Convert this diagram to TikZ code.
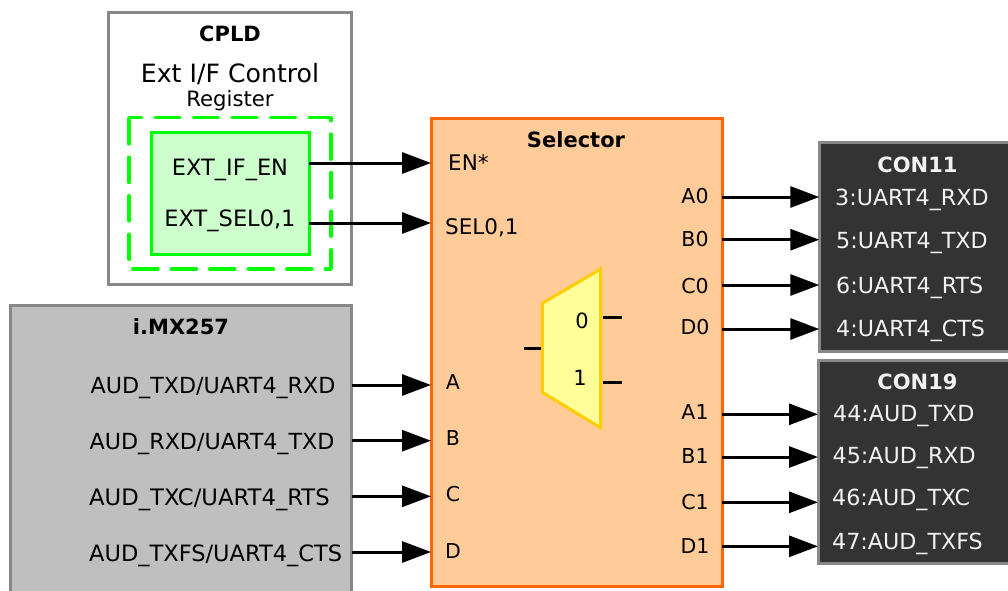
\documentclass[tikz,border=0pt]{standalone}
\usepackage{fontspec}
\setmainfont{DejaVu Sans}
\usetikzlibrary{arrows.meta}
\definecolor{boxgray}{HTML}{888888}
\definecolor{pure}{HTML}{00FF00}
\definecolor{palegreen}{HTML}{CCFFCC}
\definecolor{selfill}{HTML}{FFCC99}
\definecolor{seledge}{HTML}{FF6600}
\definecolor{muxfill}{HTML}{FFFF99}
\definecolor{muxedge}{HTML}{FFCC00}
\definecolor{socgray}{HTML}{BFBFBF}
\definecolor{condark}{HTML}{333333}
\tikzset{
  x=1pt,y=-1pt,
  blockbox/.style={draw=boxgray,line width=3pt,anchor=north west,inner sep=0pt,outer sep=0pt},
  lab/.style={inner sep=0pt,anchor=base,yshift=-7.5pt,font=\fontsize{20.5}{23}\selectfont},
  sigc/.style={lab,yshift=-0.5pt,font=\fontsize{22.5}{26}\selectfont},
  labl/.style={lab,anchor=base west,yshift=-0.5pt,font=\fontsize{22.2}{26}\selectfont},
  head/.style={lab,yshift=0pt,font=\fontsize{21}{24}\selectfont\bfseries},
  wlab/.style={labl,text=white!95!black},
  sig/.style={draw=black,line width=3pt,-{Triangle[length=29pt,width=21pt]}},
  stub/.style={draw=black,line width=3pt},
}
\begin{document}
\begin{tikzpicture}
\path[use as bounding box,clip] (0,0) rectangle (1008,590);
\fill[white] (0,0) rectangle (1008,590);
% CPLD
\node[blockbox,fill=white,minimum width=243pt,minimum height=272pt] (cpld) at (108.5,12) {};
\node[head] (cpldt) at (230,34) {CPLD};
\node[lab,font=\fontsize{25.2}{29}\selectfont,yshift=-0.5pt] (ctl) at (230,74.5) {Ext I/F Control};
\node[lab,font=\fontsize{21.2}{24}\selectfont,yshift=0pt] (reg) at (230,99) {Register};
\draw[pure,line width=3.5pt,line cap=round,line join=round,dash pattern=on 25pt off 13.5pt,dash phase=12.5pt]
  (129,117.7) -- (331,117.7) -- (331,269) -- (129,269) -- cycle;
\node[blockbox,draw=pure,fill=palegreen,minimum width=158pt,minimum height=122pt] (regs) at (151,132.7) {};
\node[sigc] (extif) at (230,167) {EXT\_IF\_EN};
\node[sigc] (extsel) at (230,218) {EXT\_SEL0,1};
% i.MX257
\node[blockbox,fill=socgray,minimum width=341pt,minimum height=320pt] (imx) at (10.7,305) {};
\node[head] (imxt) at (181,327) {i.MX257};
\node[labl] (l1) at (90.5,385) {AUD\_TXD/UART4\_RXD};
\node[labl] (l2) at (89.5,441) {AUD\_RXD/UART4\_TXD};
\node[labl,font=\fontsize{22.7}{26}\selectfont] (l3) at (89,497) {AUD\_TXC/UART4\_RTS};
\node[labl,font=\fontsize{22.5}{26}\selectfont] (l4) at (89,553) {AUD\_TXFS/UART4\_CTS};
% Selector
\node[blockbox,draw=seledge,fill=selfill,minimum width=291pt,minimum height=468pt] (sel) at (431,118) {};
\node[head] (selt) at (576,140) {Selector};
\node[labl,font=\fontsize{21.5}{25}\selectfont] (en) at (448,162) {EN*};
\node[labl,font=\fontsize{21.5}{25}\selectfont] (s01) at (445,226) {SEL0,1};
\node[lab] (pa) at (453,382) {A};
\node[lab] (pb) at (453,438) {B};
\node[lab] (pc) at (453,494) {C};
\node[lab] (pd) at (453,551) {D};
\node[lab] (a0) at (695,196) {A0};
\node[lab] (b0) at (695,239) {B0};
\node[lab] (c0) at (695,286) {C0};
\node[lab] (d0) at (695,327) {D0};
\node[lab] (a1) at (695,412) {A1};
\node[lab] (b1) at (695,456) {B1};
\node[lab] (c1) at (695,502) {C1};
\node[lab] (d1) at (695,546) {D1};
% Mux
\draw[muxedge,fill=muxfill,line width=3pt,line join=miter]
  (542.3,303.3) -- (600.7,269) -- (600.7,427.7) -- (542.3,392.3) -- cycle;
\node[lab,font=\fontsize{21}{24}\selectfont] (m0) at (582,320.7) {0};
\node[lab,font=\fontsize{21}{24}\selectfont] (m1) at (580,377.7) {1};
\coordinate (sl0) at (524,348);
\coordinate (sl1) at (541,348);
\coordinate (st0) at (603,317.7);
\coordinate (st1) at (622,317.7);
\coordinate (su0) at (603,382.3);
\coordinate (su1) at (622,382.3);
\draw[stub] (sl0) -- (sl1);
\draw[stub] (st0) -- (st1);
\draw[stub] (su0) -- (su1);
% CON11
\node[blockbox,fill=condark,minimum width=230pt,minimum height=209.4pt] (con11) at (819.3,142.3) {};
\node[head,text=white!95!black] (con11t) at (917.5,165) {CON11};
\node[wlab] (c3) at (835,197) {3:UART4\_RXD};
\node[wlab] (c5) at (836,240) {5:UART4\_TXD};
\node[wlab] (c6) at (836,285) {6:UART4\_RTS};
\node[wlab] (c4) at (836,328) {4:UART4\_CTS};
% CON19
\node[blockbox,fill=condark,minimum width=230pt,minimum height=203pt] (con19) at (818,360) {};
\node[head,text=white!95!black] (con19t) at (917.5,382) {CON19};
\node[wlab] (c44) at (833,413) {44:AUD\_TXD};
\node[wlab] (c45) at (832.5,455) {45:AUD\_RXD};
\node[wlab] (c46) at (832,497) {46:AUD\_TXC};
\node[wlab] (c47) at (832,541) {47:AUD\_TXFS};
% Connectors
\draw[sig] (regs.east |- 0,163) -- (sel.west |- 0,163);
\draw[sig] (regs.east |- 0,223) -- (sel.west |- 0,223);
\draw[sig] (imx.east |- 0,385) -- (sel.west |- 0,385);
\draw[sig] (imx.east |- 0,440.7) -- (sel.west |- 0,440.7);
\draw[sig] (imx.east |- 0,496.3) -- (sel.west |- 0,496.3);
\draw[sig] (imx.east |- 0,552) -- (sel.west |- 0,552);
\draw[sig] (sel.east |- 0,197) -- (con11.west |- 0,197);
\draw[sig] (sel.east |- 0,239.7) -- (con11.west |- 0,239.7);
\draw[sig] (sel.east |- 0,285) -- (con11.west |- 0,285);
\draw[sig] (sel.east |- 0,329) -- (con11.west |- 0,329);
\draw[sig] (sel.east |- 0,414.3) -- (con19.west |- 0,414.3);
\draw[sig] (sel.east |- 0,457) -- (con19.west |- 0,457);
\draw[sig] (sel.east |- 0,502.3) -- (con19.west |- 0,502.3);
\draw[sig] (sel.east |- 0,546.3) -- (con19.west |- 0,546.3);
\end{tikzpicture}
\end{document}
